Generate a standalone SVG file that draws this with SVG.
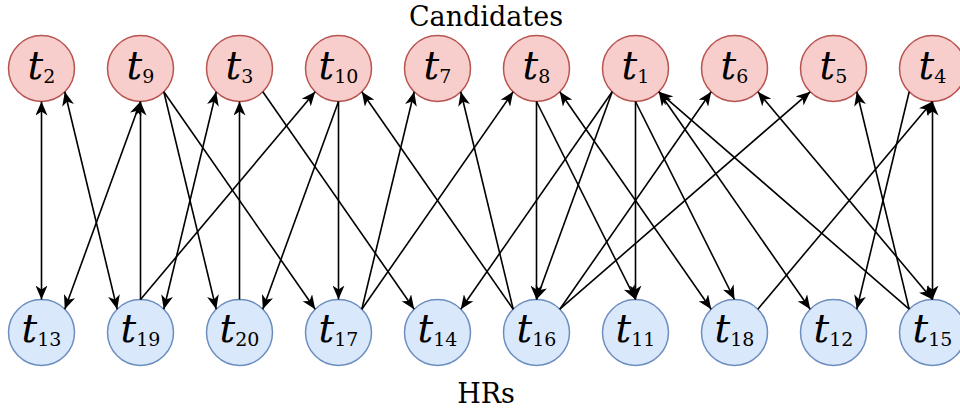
<svg xmlns="http://www.w3.org/2000/svg" width="960" height="413" viewBox="0 0 960 413">
<style>
.top{fill:#f8cecc;stroke:#b85450;stroke-width:1.5}
.bot{fill:#dae8fc;stroke:#6c8ebf;stroke-width:1.5}
.lbl{font-family:'DejaVu Serif',serif;fill:#000}
.t{font-style:italic;font-size:39px}
.s{font-style:normal;font-size:19px}
.title{font-family:'DejaVu Serif',serif;font-size:27px;fill:#000}
.e path{fill:none;stroke:#000;stroke-width:1.6}
.one{marker-end:url(#ah)}
.two{marker-start:url(#ah);marker-end:url(#ah)}
</style>
<defs>
<marker id="ah" viewBox="0 0 14 12" refX="14" refY="6" markerWidth="14" markerHeight="12" markerUnits="userSpaceOnUse" orient="auto-start-reverse">
<path d="M0,0 L14,6 L0,12 L4,6 Z" fill="#000" stroke="none"/>
</marker>
</defs>
<rect width="960" height="413" fill="#fff"/>
<text class="title" x="486" y="25.5" text-anchor="middle">Candidates</text>
<text class="title" x="486" y="403" text-anchor="middle">HRs</text>

<g id="t2"><circle class="top" cx="41.5" cy="68.5" r="33"/><text class="lbl" x="41.5" y="78.5" text-anchor="middle"><tspan class="t">t</tspan><tspan class="s" dy="4.5">2</tspan></text></g>
<g id="t9"><circle class="top" cx="140.5" cy="68.5" r="33"/><text class="lbl" x="140.5" y="78.5" text-anchor="middle"><tspan class="t">t</tspan><tspan class="s" dy="4.5">9</tspan></text></g>
<g id="t3"><circle class="top" cx="239.5" cy="68.5" r="33"/><text class="lbl" x="239.5" y="78.5" text-anchor="middle"><tspan class="t">t</tspan><tspan class="s" dy="4.5">3</tspan></text></g>
<g id="t10"><circle class="top" cx="338.5" cy="68.5" r="33"/><text class="lbl" x="338.5" y="78.5" text-anchor="middle"><tspan class="t">t</tspan><tspan class="s" dy="4.5">10</tspan></text></g>
<g id="t7"><circle class="top" cx="437.5" cy="68.5" r="33"/><text class="lbl" x="437.5" y="78.5" text-anchor="middle"><tspan class="t">t</tspan><tspan class="s" dy="4.5">7</tspan></text></g>
<g id="t8"><circle class="top" cx="536.5" cy="68.5" r="33"/><text class="lbl" x="536.5" y="78.5" text-anchor="middle"><tspan class="t">t</tspan><tspan class="s" dy="4.5">8</tspan></text></g>
<g id="t1"><circle class="top" cx="635.5" cy="68.5" r="33"/><text class="lbl" x="635.5" y="78.5" text-anchor="middle"><tspan class="t">t</tspan><tspan class="s" dy="4.5">1</tspan></text></g>
<g id="t6"><circle class="top" cx="734.5" cy="68.5" r="33"/><text class="lbl" x="734.5" y="78.5" text-anchor="middle"><tspan class="t">t</tspan><tspan class="s" dy="4.5">6</tspan></text></g>
<g id="t5"><circle class="top" cx="833.5" cy="68.5" r="33"/><text class="lbl" x="833.5" y="78.5" text-anchor="middle"><tspan class="t">t</tspan><tspan class="s" dy="4.5">5</tspan></text></g>
<g id="t4"><circle class="top" cx="932.5" cy="68.5" r="33"/><text class="lbl" x="932.5" y="78.5" text-anchor="middle"><tspan class="t">t</tspan><tspan class="s" dy="4.5">4</tspan></text></g>

<g id="t13"><circle class="bot" cx="41.5" cy="332.5" r="33"/><text class="lbl" x="41.5" y="341.5" text-anchor="middle"><tspan class="t">t</tspan><tspan class="s" dy="4.5">13</tspan></text></g>
<g id="t19"><circle class="bot" cx="140.5" cy="332.5" r="33"/><text class="lbl" x="140.5" y="341.5" text-anchor="middle"><tspan class="t">t</tspan><tspan class="s" dy="4.5">19</tspan></text></g>
<g id="t20"><circle class="bot" cx="239.5" cy="332.5" r="33"/><text class="lbl" x="239.5" y="341.5" text-anchor="middle"><tspan class="t">t</tspan><tspan class="s" dy="4.5">20</tspan></text></g>
<g id="t17"><circle class="bot" cx="338.5" cy="332.5" r="33"/><text class="lbl" x="338.5" y="341.5" text-anchor="middle"><tspan class="t">t</tspan><tspan class="s" dy="4.5">17</tspan></text></g>
<g id="t14"><circle class="bot" cx="437.5" cy="332.5" r="33"/><text class="lbl" x="437.5" y="341.5" text-anchor="middle"><tspan class="t">t</tspan><tspan class="s" dy="4.5">14</tspan></text></g>
<g id="t16"><circle class="bot" cx="536.5" cy="332.5" r="33"/><text class="lbl" x="536.5" y="341.5" text-anchor="middle"><tspan class="t">t</tspan><tspan class="s" dy="4.5">16</tspan></text></g>
<g id="t11"><circle class="bot" cx="635.5" cy="332.5" r="33"/><text class="lbl" x="635.5" y="341.5" text-anchor="middle"><tspan class="t">t</tspan><tspan class="s" dy="4.5">11</tspan></text></g>
<g id="t18"><circle class="bot" cx="734.5" cy="332.5" r="33"/><text class="lbl" x="734.5" y="341.5" text-anchor="middle"><tspan class="t">t</tspan><tspan class="s" dy="4.5">18</tspan></text></g>
<g id="t12"><circle class="bot" cx="833.5" cy="332.5" r="33"/><text class="lbl" x="833.5" y="341.5" text-anchor="middle"><tspan class="t">t</tspan><tspan class="s" dy="4.5">12</tspan></text></g>
<g id="t15"><circle class="bot" cx="932.5" cy="332.5" r="33"/><text class="lbl" x="932.5" y="341.5" text-anchor="middle"><tspan class="t">t</tspan><tspan class="s" dy="4.5">15</tspan></text></g>

<g id="connectors" class="e">
<path class="two" d="M41.5,101.5 L41.5,299.5"/>
<path class="two" d="M64.8,91.8 L117.2,309.2"/>
<path class="two" d="M140.5,101.5 L64.8,309.2"/>
<path class="one" d="M140.5,299.5 L140.5,101.5"/>
<path class="one" d="M163.8,91.8 L216.2,309.2"/>
<path class="one" d="M163.8,91.8 L315.2,309.2"/>
<path class="two" d="M216.2,91.8 L163.8,309.2"/>
<path class="one" d="M239.5,299.5 L239.5,101.5"/>
<path class="one" d="M262.8,91.8 L414.2,309.2"/>
<path class="one" d="M140.5,299.5 L315.2,91.8"/>
<path class="one" d="M338.5,101.5 L262.8,309.2"/>
<path class="one" d="M338.5,101.5 L338.5,299.5"/>
<path class="one" d="M361.8,309.2 L414.2,91.8"/>
<path class="one" d="M361.8,309.2 L513.2,91.8"/>
<path class="one" d="M513.2,309.2 L361.8,91.8"/>
<path class="one" d="M513.2,309.2 L460.8,91.8"/>
<path class="one" d="M536.5,101.5 L536.5,299.5"/>
<path class="one" d="M536.5,101.5 L635.5,299.5"/>
<path class="two" d="M559.8,91.8 L711.2,309.2"/>
<path class="one" d="M612.2,91.8 L460.8,309.2"/>
<path class="one" d="M612.2,91.8 L536.5,299.5"/>
<path class="one" d="M635.5,101.5 L635.5,299.5"/>
<path class="one" d="M635.5,101.5 L734.5,299.5"/>
<path class="two" d="M658.8,91.8 L810.2,309.2"/>
<path class="one" d="M909.2,309.2 L658.8,91.8"/>
<path class="one" d="M559.8,309.2 L711.2,91.8"/>
<path class="one" d="M559.8,309.2 L810.2,91.8"/>
<path class="two" d="M757.8,91.8 L932.5,299.5"/>
<path class="one" d="M909.2,309.2 L856.8,91.8"/>
<path class="one" d="M909.2,91.8 L856.8,309.2"/>
<path class="one" d="M757.8,309.2 L932.5,101.5"/>
<path class="two" d="M932.5,101.5 L932.5,299.5"/>
</g>
</svg>
